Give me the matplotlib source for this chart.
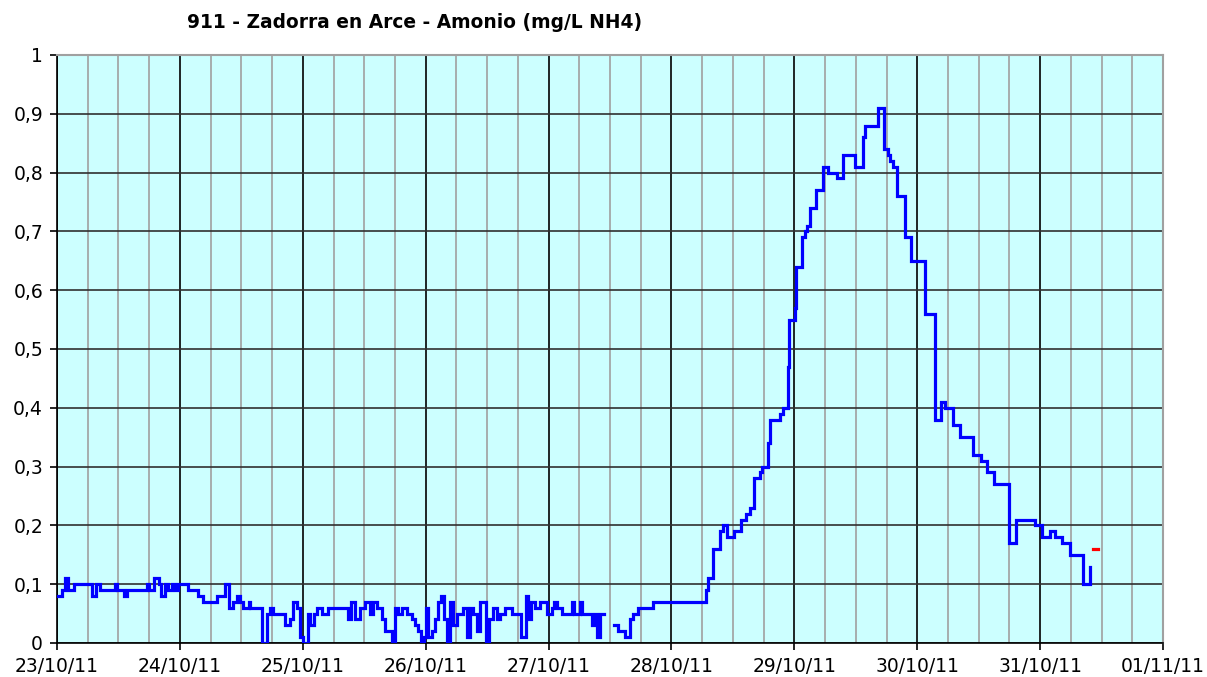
import numpy as np
import pandas as pd
import matplotlib
matplotlib.use("Agg")
import matplotlib.pyplot as plt
import matplotlib.dates as mdates

title = "911 - Zadorra en Arce - Amonio (mg/L NH4)"
start = pd.Timestamp("2011-10-23 00:00")

# hours since 23/10/11 00:00 and NH4 values (step series)
hours_a = [0.0, 0.9, 1.6, 2.2, 3.3, 6.8, 7.7, 8.4, 11.3, 11.8, 13.0, 13.6, 17.5, 18.0,
           18.9, 20.0, 20.4, 21.1, 21.7, 22.4, 23.0, 23.7, 25.6, 27.6, 28.6, 31.2, 32.8,
           33.6, 34.4, 35.1, 35.7, 36.4, 37.4, 37.7, 40.0, 41.0, 41.6, 42.2, 44.5, 45.5,
           46.1, 46.8, 47.5, 48.0, 49.1, 49.4, 50.1, 50.7, 51.7, 53.0, 56.9, 57.5, 58.2,
           59.2, 60.1, 61.1, 61.8, 62.4, 63.4, 64.1, 65.4, 66.0, 66.6, 67.3, 68.3, 69.3,
           69.9, 70.6, 71.0, 71.7, 72.1, 72.5, 73.2, 73.8, 74.5, 74.9, 75.6, 76.1, 76.7,
           77.4, 78.1, 79.3, 80.0, 80.7, 81.3, 82.0, 82.6, 83.8, 84.4, 85.2, 86.0, 86.5,
           87.5, 88.8, 90.7, 91.6, 92.0, 92.5, 93.3, 94.3, 95.6, 96.6, 97.1, 97.6, 98.6,
           100.5, 101.0, 102.1, 102.6, 104.4, 105.1, 105.5, 106.0, 106.7]
values_a = [0.08, 0.09, 0.11, 0.09, 0.10, 0.08, 0.10, 0.09, 0.10, 0.09, 0.08, 0.09, 0.10, 0.09,
            0.11, 0.10, 0.08, 0.10, 0.09, 0.10, 0.09, 0.10, 0.09, 0.08, 0.07, 0.08, 0.10,
            0.06, 0.07, 0.08, 0.07, 0.06, 0.07, 0.06, 0.00, 0.05, 0.06, 0.05, 0.03, 0.04,
            0.07, 0.06, 0.01, 0.00, 0.05, 0.03, 0.05, 0.06, 0.05, 0.06, 0.04, 0.07, 0.04,
            0.06, 0.07, 0.05, 0.07, 0.06, 0.04, 0.02, 0.00, 0.06, 0.05, 0.06, 0.05, 0.04,
            0.03, 0.02, 0.00, 0.01, 0.06, 0.01, 0.02, 0.04, 0.07, 0.08, 0.04, 0.00, 0.07,
            0.03, 0.05, 0.06, 0.01, 0.06, 0.05, 0.02, 0.07, 0.00, 0.04, 0.06, 0.04, 0.05,
            0.06, 0.05, 0.01, 0.08, 0.04, 0.07, 0.06, 0.07, 0.05, 0.06, 0.07, 0.06, 0.05,
            0.07, 0.05, 0.07, 0.05, 0.03, 0.05, 0.01, 0.05, 0.05]

hours_b = [108.8, 109.6, 110.9, 111.9, 112.5, 113.5, 116.4, 126.7, 127.1, 128.1, 129.5,
           130.1, 130.8, 132.2, 133.6, 134.5, 135.3, 136.1, 137.3, 137.7, 138.8, 139.2,
           141.2, 141.8, 142.8, 142.9, 144.1, 144.3, 145.5, 146.1, 146.5, 147.0, 148.2,
           149.6, 150.6, 152.3, 153.5, 155.8, 157.4, 157.8, 160.3, 161.5, 162.3, 162.7,
           163.3, 164.0, 165.6, 166.8, 169.5, 171.5, 172.6, 173.4, 175.0, 176.3, 178.9,
           180.4, 181.6, 183.0, 185.9, 187.3, 191.0, 192.4, 193.9, 194.9, 196.3, 197.8,
           200.4, 201.7]
values_b = [0.03, 0.02, 0.01, 0.04, 0.05, 0.06, 0.07, 0.09, 0.11, 0.16, 0.19,
            0.20, 0.18, 0.19, 0.21, 0.22, 0.23, 0.28, 0.29, 0.30, 0.34, 0.38,
            0.39, 0.40, 0.47, 0.55, 0.57, 0.64, 0.69, 0.70, 0.71, 0.74, 0.77,
            0.81, 0.80, 0.79, 0.83, 0.81, 0.86, 0.88, 0.91, 0.84, 0.83, 0.82,
            0.81, 0.76, 0.69, 0.65, 0.56, 0.38, 0.41, 0.40, 0.37, 0.35, 0.32,
            0.31, 0.29, 0.27, 0.17, 0.21, 0.20, 0.18, 0.19, 0.18, 0.17, 0.15,
            0.10, 0.13]

hours_red = [202.3, 203.3]
values_red = [0.16, 0.16]

y_ticks = [0, 0.1, 0.2, 0.3, 0.4, 0.5, 0.6, 0.7, 0.8, 0.9, 1]
y_labels = ["0", "0,1", "0,2", "0,3", "0,4", "0,5", "0,6", "0,7", "0,8", "0,9", "1"]


def to_dt(h):
    return [start + pd.Timedelta(hours=x) for x in h]


fig = plt.figure(figsize=(12.07, 6.77), dpi=100)
ax = fig.add_axes([57 / 1207, 1 - 643 / 677, (1163 - 57) / 1207, (643 - 55) / 677])
ax.set_facecolor("#CCFFFF")

ha = np.array(hours_a + [106.8] + hours_b)
va = np.array(values_a + [np.nan] + values_b)
ax.plot(to_dt(ha), va, drawstyle="steps-post", color="#0000FF", lw=2.3, zorder=3,
        solid_joinstyle="miter")
ax.plot(to_dt(hours_red), values_red, color="#FF0000", lw=2.3, zorder=3)

ax.set_xlim(start, start + pd.Timedelta(days=9))
ax.set_ylim(0, 1)

ax.xaxis.set_major_locator(mdates.DayLocator())
ax.xaxis.set_major_formatter(mdates.DateFormatter("%d/%m/%y"))
ax.xaxis.set_minor_locator(mdates.HourLocator(byhour=[6, 12, 18]))
ax.set_yticks(y_ticks)
ax.set_yticklabels(y_labels)

ax.grid(which="minor", axis="x", color="#A0A0A0", lw=1.2, zorder=1)
ax.grid(which="major", axis="x", color="#000000", lw=1.2, zorder=1)
ax.grid(which="major", axis="y", color="#303030", lw=1.2, zorder=1)
ax.set_axisbelow(True)

ax.tick_params(axis="both", which="major", labelsize=13.5, length=5, width=1.2,
               color="black", direction="out", pad=5)
ax.tick_params(axis="x", which="minor", length=0)

for s in ["left", "bottom"]:
    ax.spines[s].set_color("black")
    ax.spines[s].set_linewidth(1.2)
for s in ["top", "right"]:
    ax.spines[s].set_color("#A0A0A0")
    ax.spines[s].set_linewidth(1.5)

fig.text(415 / 1207, 1 - 22 / 677, title, ha="center", va="center",
         fontsize=13.4, fontweight="bold")

fig.savefig("out.png", dpi=100, facecolor="white")
